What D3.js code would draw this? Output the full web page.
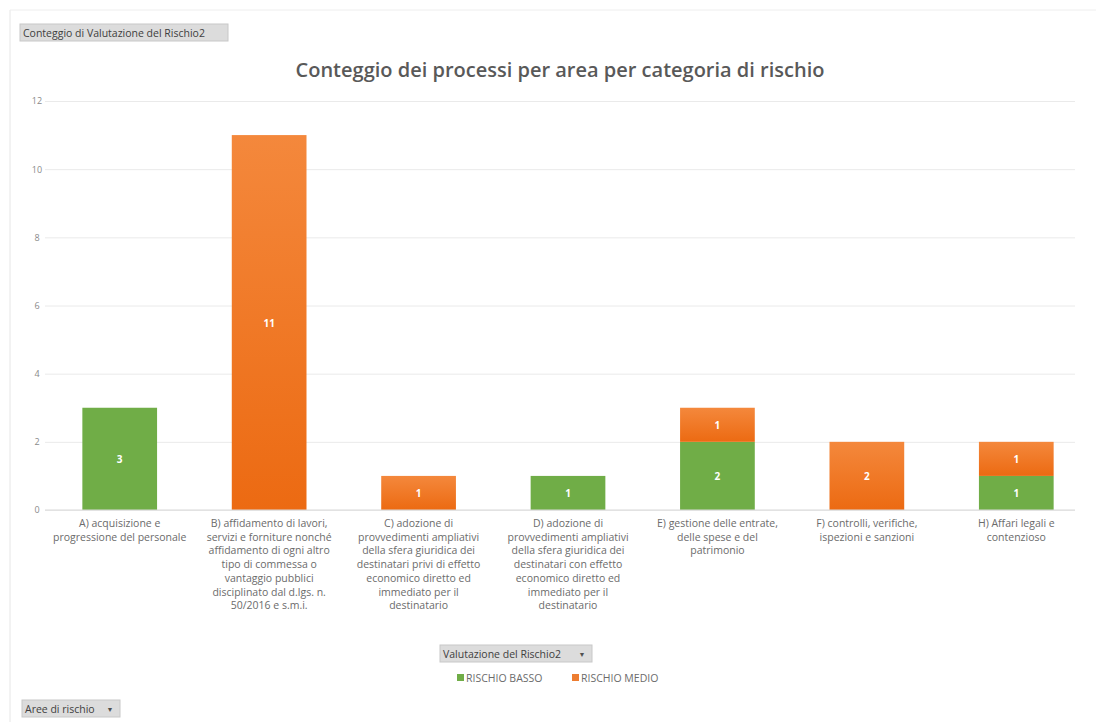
<!DOCTYPE html>
<html>
<head>
<meta charset="utf-8">
<script src="https://cdn.jsdelivr.net/npm/d3@7"></script>
<style>
  body { margin: 0; background: #fff; }
  text { font-family: "Open Sans", "Liberation Sans", sans-serif; }
</style>
</head>
<body>
<div id="chart"></div>
<script>
var categories = [
    ["A) acquisizione e", "progressione del personale"],
    ["B) affidamento di lavori,", "servizi e forniture nonché", "affidamento di ogni altro", "tipo di commessa o", "vantaggio pubblici", "disciplinato dal d.lgs. n.", "50/2016 e s.m.i."],
    ["C) adozione di", "provvedimenti ampliativi", "della sfera giuridica dei", "destinatari privi di effetto", "economico diretto ed", "immediato per il", "destinatario"],
    ["D) adozione di", "provvedimenti ampliativi", "della sfera giuridica dei", "destinatari con effetto", "economico diretto ed", "immediato per il", "destinatario"],
    ["E) gestione delle entrate,", "delle spese e del", "patrimonio"],
    ["F) controlli, verifiche,", "ispezioni e sanzioni"],
    ["H) Affari legali e", "contenzioso"]
];
var rischioBasso = [3, 0, 0, 1, 2, 0, 1];
var rischioMedio = [0, 11, 1, 0, 1, 2, 1];
var seriesNames = ["RISCHIO BASSO", "RISCHIO MEDIO"];
var yTicks = [0, 2, 4, 6, 8, 10, 12];

var W = 1096, H = 722;
var margin = { top: 101, left: 45, right: 5, bottom: 212 };
var width = W - margin.left - margin.right;
var height = H - margin.top - margin.bottom;

var svg = d3.select("#chart").append("svg")
    .attr("width", W).attr("height", H);

var defs = svg.append("defs");
var grad = defs.append("linearGradient").attr("id", "orangeGrad")
    .attr("x1", 0).attr("y1", 0).attr("x2", 0).attr("y2", 1);
grad.append("stop").attr("offset", "0%").attr("stop-color", "#F4883C");
grad.append("stop").attr("offset", "100%").attr("stop-color", "#EC6A12");

// outer frame
svg.append("line").attr("x1", 10).attr("x2", 10).attr("y1", 10).attr("y2", H)
    .attr("stroke", "#e6e6e6");
svg.append("line").attr("x1", 10).attr("x2", W).attr("y1", 10).attr("y2", 10)
    .attr("stroke", "#eeeeee");

var g = svg.append("g").attr("transform", "translate(" + margin.left + "," + margin.top + ")");

var x = d3.scaleBand()
    .domain(d3.range(categories.length))
    .range([0, width])
    .paddingInner(0.5).paddingOuter(0.25);
var y = d3.scaleLinear().domain([0, 12]).range([height, 0]);

// gridlines + y labels
var yAxis = d3.axisLeft(y).tickValues(yTicks).tickSize(-1030).tickPadding(5);
var ya = g.append("g").call(yAxis);
ya.select(".domain").remove();
ya.selectAll(".tick line").attr("stroke", "#eaeaea");
ya.selectAll(".tick text").attr("fill", "#8a8a8a").style("font-size", "9px")
    .attr("x", -8).attr("text-anchor", "middle");

// stacked data
var data = categories.map(function (c, i) {
    return { i: i, basso: rischioBasso[i], medio: rischioMedio[i] };
});
var stacked = d3.stack().keys(["basso", "medio"])(data);
var colors = { basso: "#70AD47", medio: "url(#orangeGrad)" };

var layers = g.selectAll(".layer").data(stacked).enter().append("g")
    .attr("class", "layer")
    .attr("fill", function (d) { return colors[d.key]; });

layers.selectAll("rect").data(function (d) { return d; }).enter()
    .filter(function (d) { return d[1] - d[0] > 0; })
    .append("rect")
    .attr("x", function (d) { return x(d.data.i); })
    .attr("y", function (d) { return y(d[1]); })
    .attr("width", x.bandwidth())
    .attr("height", function (d) { return y(d[0]) - y(d[1]); });

layers.selectAll("text").data(function (d) { return d; }).enter()
    .filter(function (d) { return d[1] - d[0] > 0; })
    .append("text")
    .attr("x", function (d) { return x(d.data.i) + x.bandwidth() / 2; })
    .attr("y", function (d) { return (y(d[0]) + y(d[1])) / 2 + 4; })
    .attr("text-anchor", "middle")
    .attr("fill", "#ffffff")
    .style("font-size", "10px")
    .style("font-weight", "bold")
    .text(function (d) { return d[1] - d[0]; });

// x axis baseline
g.append("line").attr("x1", 0).attr("x2", 1030)
    .attr("y1", height).attr("y2", height).attr("stroke", "#d9d9d9");

// category labels
var xl = g.selectAll(".xlab").data(categories).enter().append("text")
    .attr("class", "xlab")
    .attr("text-anchor", "middle")
    .attr("fill", "#6b6b6b")
    .style("font-size", "10.5px")
    .attr("transform", function (d, i) {
        return "translate(" + (x(i) + x.bandwidth() / 2) + "," + (height + 17) + ")";
    });
xl.selectAll("tspan").data(function (d) { return d; }).enter().append("tspan")
    .attr("x", 0)
    .attr("dy", function (d, i) { return i === 0 ? 0 : 13.7; })
    .text(function (d) { return d; });

// title
svg.append("text")
    .attr("x", 560).attr("y", 77)
    .attr("text-anchor", "middle")
    .attr("fill", "#595959")
    .style("font-size", "20px")
    .style("font-weight", "600")
    .text("Conteggio dei processi per area per categoria di rischio");

// field buttons
function fieldButton(x0, y0, w, label, arrow) {
    var b = svg.append("g").attr("transform", "translate(" + x0 + "," + y0 + ")");
    b.append("rect").attr("width", w).attr("height", 17)
        .attr("fill", "#dcdcdc").attr("stroke", "#c8c8c8");
    b.append("text").attr("x", 3).attr("y", 12.5)
        .attr("fill", "#404040").style("font-size", "10.5px").text(label);
    if (arrow) {
        b.append("text").attr("x", w - 10).attr("y", 12).attr("text-anchor", "middle")
            .attr("fill", "#505050").style("font-size", "7px").text("▼");
    }
}
fieldButton(20, 24, 208, "Conteggio di Valutazione del Rischio2", false);
fieldButton(440, 645, 152, "Valutazione del Rischio2", true);
fieldButton(22, 700, 98, "Aree di rischio", true);

// legend
var legend = svg.append("g").attr("transform", "translate(457,673)");
var legendColors = ["#70AD47", "#ED7D31"];
var lx = [0, 115];
seriesNames.forEach(function (s, i) {
    var li = legend.append("g").attr("transform", "translate(" + lx[i] + ",0)");
    li.append("rect").attr("width", 7).attr("height", 7).attr("y", 1).attr("fill", legendColors[i]);
    li.append("text").attr("x", 9).attr("y", 8.5).attr("fill", "#6b6b6b")
        .style("font-size", "10.5px").text(s);
});
</script>
</body>
</html>
